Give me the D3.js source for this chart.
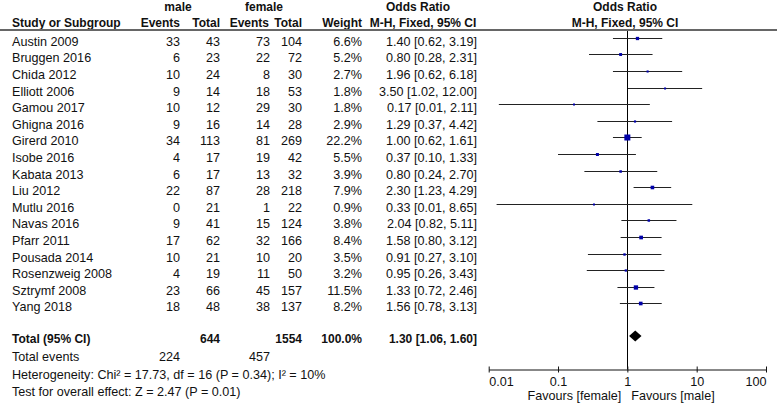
<!DOCTYPE html>
<html>
<head>
<meta charset="utf-8">
<script src="https://cdn.jsdelivr.net/npm/d3@7"></script>
<style>
  body { margin: 0; background: #fff; }
  text { font-family: Arial, "Liberation Sans", sans-serif; font-size: 12.6px; fill: #111; }
  .bold { font-weight: bold; font-size: 12px; }
</style>
</head>
<body>
<script>
// study data
var studies = ["Austin 2009", "Bruggen 2016", "Chida 2012", "Elliott 2006", "Gamou 2017",
  "Ghigna 2016", "Girerd 2010", "Isobe 2016", "Kabata 2013", "Liu 2012", "Mutlu 2016",
  "Navas 2016", "Pfarr 2011", "Pousada 2014", "Rosenzweig 2008", "Sztrymf 2008", "Yang 2018"];
var maleEvents = [33, 6, 10, 9, 10, 9, 34, 4, 6, 22, 0, 9, 17, 10, 4, 23, 18];
var maleTotal = [43, 23, 24, 14, 12, 16, 113, 17, 17, 87, 21, 41, 62, 21, 19, 66, 48];
var femaleEvents = [73, 22, 8, 18, 29, 14, 81, 19, 13, 28, 1, 15, 32, 10, 11, 45, 38];
var femaleTotal = [104, 72, 30, 53, 30, 28, 269, 42, 32, 218, 22, 124, 166, 20, 50, 157, 137];
var weights = [6.6, 5.2, 2.7, 1.8, 1.8, 2.9, 22.2, 5.5, 3.9, 7.9, 0.9, 3.8, 8.4, 3.5, 3.2, 11.5, 8.2];
var oddsRatio = [1.40, 0.80, 1.96, 3.50, 0.17, 1.29, 1.00, 0.37, 0.80, 2.30, 0.33, 2.04, 1.58, 0.91, 0.95, 1.33, 1.56];
var ciLow = [0.62, 0.28, 0.62, 1.02, 0.014, 0.37, 0.62, 0.10, 0.24, 1.23, 0.013, 0.82, 0.80, 0.27, 0.26, 0.72, 0.78];
var ciHigh = [3.19, 2.31, 6.18, 12.00, 2.11, 4.42, 1.61, 1.33, 2.70, 4.29, 8.65, 5.11, 3.12, 3.10, 3.43, 2.46, 3.13];

// pooled result
var total = {male: 644, female: 1554, maleEvents: 224, femaleEvents: 457, weight: "100.0%", or: 1.30, lo: 1.06, hi: 1.60};
var axisTicks = [0.01, 0.1, 1, 10, 100];
var footnotes = ["Heterogeneity: Chi\u00b2 = 17.73, df = 16 (P = 0.34); I\u00b2 = 10%",
  "Test for overall effect: Z = 2.47 (P = 0.01)"];

var w = 778;
var h = 406;

var svg = d3.select("body")
  .append("svg")
  .attr("width", w)
  .attr("height", h);

// scales
var xScale = d3.scaleLog()
  .domain([0.01, 100])
  .range([488.7, 766]);

var yScale = d3.scalePoint()
  .domain(studies)
  .range([37.7, 37.7 + 16.6 * (studies.length - 1)]);

var sizeScale = d3.scaleSqrt()
  .domain([0, 22.2])
  .range([0, 6]);

var fmt = d3.format(".2f");
var totalY = 336;
var textOff = 8;

// column headers
var headers = [
  {t: "male", x: 178, y: 11, a: "middle"},
  {t: "female", x: 264, y: 11, a: "middle"},
  {t: "Odds Ratio", x: 418, y: 11, a: "middle"},
  {t: "Odds Ratio", x: 625, y: 11, a: "middle"},
  {t: "Study or Subgroup", x: 12, y: 27, a: "start"},
  {t: "Events", x: 180, y: 27, a: "end"},
  {t: "Total", x: 220, y: 27, a: "end"},
  {t: "Events", x: 269, y: 27, a: "end"},
  {t: "Total", x: 302, y: 27, a: "end"},
  {t: "Weight", x: 362, y: 27, a: "end"},
  {t: "M-H, Fixed, 95% CI", x: 423, y: 27, a: "middle"},
  {t: "M-H, Fixed, 95% CI", x: 625, y: 27, a: "middle"}
];
svg.selectAll("text.head")
  .data(headers)
  .enter()
  .append("text")
  .attr("class", "head bold")
  .attr("x", function(d) { return d.x; })
  .attr("y", function(d) { return d.y; })
  .attr("text-anchor", function(d) { return d.a; })
  .text(function(d) { return d.t; });

// rule under the header
svg.append("line")
  .attr("x1", 0)
  .attr("x2", 777)
  .attr("y1", 30)
  .attr("y2", 30)
  .attr("stroke", "#666")
  .attr("stroke-width", 2);

// table rows
var columns = [
  {x: 12, a: "start", v: function(d, i) { return studies[i]; }},
  {x: 180, a: "end", v: function(d, i) { return maleEvents[i]; }},
  {x: 220, a: "end", v: function(d, i) { return maleTotal[i]; }},
  {x: 270, a: "end", v: function(d, i) { return femaleEvents[i]; }},
  {x: 302, a: "end", v: function(d, i) { return femaleTotal[i]; }},
  {x: 362, a: "end", v: function(d, i) { return weights[i].toFixed(1) + "%"; }},
  {x: 477, a: "end", v: function(d, i) {
    return fmt(oddsRatio[i]) + " [" + fmt(ciLow[i]) + ", " + fmt(ciHigh[i]) + "]";
  }}
];

columns.forEach(function(col) {
  svg.append("g")
    .selectAll("text")
    .data(studies)
    .enter()
    .append("text")
    .attr("x", col.x)
    .attr("y", function(d) { return yScale(d) + textOff; })
    .attr("text-anchor", col.a)
    .text(col.v);
});

// total row
var totalRow = [
  {t: "Total (95% CI)", x: 12, a: "start"},
  {t: total.male, x: 220, a: "end"},
  {t: total.female, x: 302, a: "end"},
  {t: total.weight, x: 362, a: "end"},
  {t: fmt(total.or) + " [" + fmt(total.lo) + ", " + fmt(total.hi) + "]", x: 477, a: "end"}
];
svg.selectAll("text.total")
  .data(totalRow)
  .enter()
  .append("text")
  .attr("class", "total bold")
  .attr("x", function(d) { return d.x; })
  .attr("y", totalY + 7)
  .attr("text-anchor", function(d) { return d.a; })
  .text(function(d) { return d.t; });

// total events + footnotes
svg.append("text").attr("x", 12).attr("y", 361).text("Total events");
svg.append("text").attr("x", 180).attr("y", 361).attr("text-anchor", "end").text(total.maleEvents);
svg.append("text").attr("x", 270).attr("y", 361).attr("text-anchor", "end").text(total.femaleEvents);
svg.selectAll("text.foot")
  .data(footnotes)
  .enter()
  .append("text")
  .attr("class", "foot")
  .attr("x", 12)
  .attr("y", function(d, i) { return 378.5 + i * 17; })
  .text(function(d) { return d; });

// line of no effect
svg.append("line")
  .attr("x1", Math.round(xScale(1)) + 0.5)
  .attr("x2", Math.round(xScale(1)) + 0.5)
  .attr("y1", 31)
  .attr("y2", 369.5)
  .attr("stroke", "#000");

// confidence intervals
svg.append("g")
  .selectAll("line")
  .data(studies)
  .enter()
  .append("line")
  .attr("x1", function(d, i) { return xScale(ciLow[i]); })
  .attr("x2", function(d, i) { return xScale(ciHigh[i]); })
  .attr("y1", function(d) { return Math.round(yScale(d)) + 0.5; })
  .attr("y2", function(d) { return Math.round(yScale(d)) + 0.5; })
  .attr("stroke", "#222");

// weighted squares
function side(i) {
  return Math.max(sizeScale(weights[i]), 2);
}
svg.append("g")
  .selectAll("rect")
  .data(studies)
  .enter()
  .append("rect")
  .attr("x", function(d, i) { return xScale(oddsRatio[i]) - side(i) / 2; })
  .attr("y", function(d, i) { return Math.round(yScale(d)) + 0.5 - side(i) / 2; })
  .attr("width", function(d, i) { return side(i); })
  .attr("height", function(d, i) { return side(i); })
  .attr("fill", "#0000a8");

// pooled diamond
var dh = 5.5;
svg.append("polygon")
  .attr("points", [
    [xScale(total.lo), totalY],
    [xScale(total.or), totalY - dh],
    [xScale(total.hi), totalY],
    [xScale(total.or), totalY + dh]
  ].map(function(p) { return p.join(","); }).join(" "))
  .attr("fill", "#000");

// x axis
var xAxis = d3.axisBottom(xScale)
  .tickValues(axisTicks)
  .tickSize(3)
  .tickSizeOuter(0)
  .tickFormat(function(d) { return String(d); });

var gx = svg.append("g")
  .attr("class", "x axis")
  .attr("transform", "translate(0, 369.5)")
  .call(xAxis);

gx.select(".domain").attr("stroke", "#111");
gx.selectAll(".tick line").attr("y1", -3).attr("y2", 3).attr("stroke", "#111");
gx.selectAll(".tick text")
  .attr("y", 8)
  .attr("dy", "0.71em")
  .style("font-family", "Arial, 'Liberation Sans', sans-serif")
  .style("font-size", "12.6px")
  .attr("fill", "#111")
  .attr("text-anchor", function(d, i) {
    return i === 0 ? "start" : (i === axisTicks.length - 1 ? "end" : "middle");
  });

svg.append("text")
  .attr("x", xScale(1) - 6)
  .attr("y", 400)
  .attr("text-anchor", "end")
  .text("Favours [female]");
svg.append("text")
  .attr("x", xScale(1) + 4)
  .attr("y", 400)
  .text("Favours [male]");
</script>
</body>
</html>
